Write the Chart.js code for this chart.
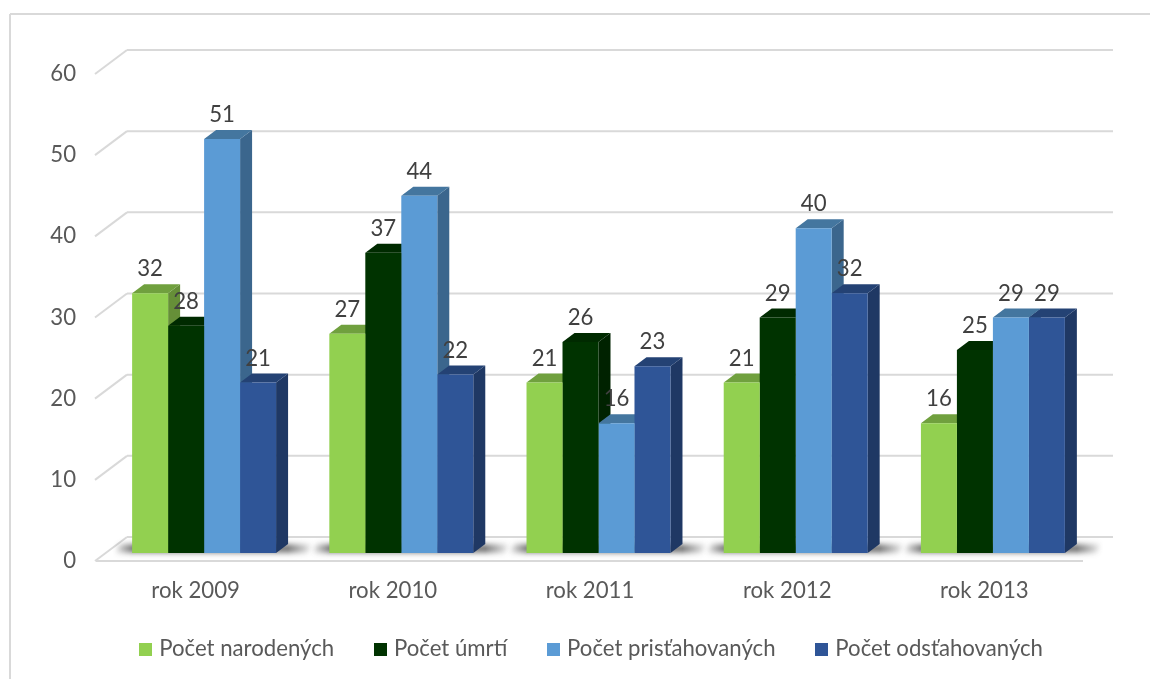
<!DOCTYPE html>
<html>
<head>
<meta charset="utf-8">
<title>Demografia</title>
<script src="https://cdn.jsdelivr.net/npm/chart.js@4"></script>
<style>
    html, body { margin: 0; padding: 0; background: #fff; }
    canvas { display: block; }
</style>
</head>
<body>
<canvas id="chart" width="1150" height="679"></canvas>
<script>
var categories = ["rok 2009", "rok 2010", "rok 2011", "rok 2012", "rok 2013"];
var seriesNames = ["Počet narodených", "Počet úmrtí", "Počet prisťahovaných", "Počet odsťahovaných"];
var narodeni = [32, 27, 21, 21, 16];
var umrti = [28, 37, 26, 29, 25];
var pristahovani = [51, 44, 16, 40, 29];
var odstahovani = [21, 22, 23, 32, 29];
var seriesValues = [narodeni, umrti, pristahovani, odstahovani];
var yTicks = [0, 10, 20, 30, 40, 50, 60];

var frontColors = ["#92d050", "#003300", "#5b9bd5", "#2f5597"];
var sideColors = ["#668f38", "#002200", "#3b668d", "#1f3864"];
var topColors = ["#70a03e", "#002a00", "#44769f", "#244274"];

var FONT = "Lato, Carlito, sans-serif";
var FONT_SIZE = 22.2;
var GRID = "#d9d9d9";
// depth of the fake 3d box and of the back wall
var BAR_X = 12, BAR_Y = -9, SHIFT_X = 8.5, SHIFT_Y = -8, WALL_X = 32, WALL_Y = -24;

function line(ctx, x1, y1, x2, y2) {
    ctx.beginPath();
    ctx.moveTo(x1, y1);
    ctx.lineTo(x2, y2);
    ctx.stroke();
}

function poly(ctx, pts, color) {
    ctx.fillStyle = color;
    ctx.beginPath();
    ctx.moveTo(pts[0][0], pts[0][1]);
    for (var i = 1; i < pts.length; i++) ctx.lineTo(pts[i][0], pts[i][1]);
    ctx.closePath();
    ctx.fill();
}

// legend marker as a small canvas, so the gap to the text can be tighter than the default
function swatch(color) {
    var c = document.createElement("canvas");
    c.width = 13;
    c.height = 13;
    var g = c.getContext("2d");
    g.fillStyle = color;
    g.fillRect(0, 0, 13, 13);
    return c;
}
var swatches = frontColors.map(swatch);

var box3d = {
    id: "box3d",
    afterLayout: function (chart) {
        // tick labels sit lower than the box the legend leaves them, keep them unclipped
        chart.scales.x.bottom += 24;
        chart.legend.right += 4;
    },
    beforeDatasetsDraw: function (chart) {
        var ctx = chart.ctx, area = chart.chartArea, y = chart.scales.y;
        ctx.save();
        // frame of the pasted picture
        ctx.strokeStyle = GRID;
        ctx.lineWidth = 2;
        line(ctx, 10, 679, 10, 14);
        line(ctx, 10, 14, 1150, 14);
        // walls
        yTicks.forEach(function (t) {
            var py = y.getPixelForValue(t);
            line(ctx, area.left - 2, py, area.left + WALL_X - 2, py + WALL_Y);
            line(ctx, area.left + WALL_X - 2, py + WALL_Y, area.right + WALL_X - 2, py + WALL_Y);
        });
        line(ctx, area.left - 1, area.bottom, area.right, area.bottom);
        // shadows on the floor, the shape itself stays off canvas
        var first = chart.getDatasetMeta(0).data, last = chart.getDatasetMeta(3).data;
        var by = area.bottom + SHIFT_Y;
        ctx.save();
        ctx.shadowColor = "#222";
        ctx.shadowBlur = 6;
        ctx.shadowOffsetX = 3000;
        first.forEach(function (bar, i) {
            var x0 = bar.x - bar.width / 2 + SHIFT_X, x3 = last[i].x + last[i].width / 2 + SHIFT_X + BAR_X;
            var x1 = x0 - 20 - 3000, x2 = x3 + 27 - 3000;
            var fade = ctx.createLinearGradient(x1, 0, x2, 0);
            var span = x2 - x1;
            fade.addColorStop(0, "rgba(0,0,0,0)");
            fade.addColorStop(20 / span, "rgba(0,0,0,0.75)");
            fade.addColorStop(1 - 27 / span, "rgba(0,0,0,0.75)");
            fade.addColorStop(1, "rgba(0,0,0,0)");
            poly(ctx, [[x1, by - 1], [x1 + 7, by - 8], [x2, by - 8], [x2 - 7, by - 1]], fade);
        });
        ctx.restore();
        // sides and tops go under all the fronts
        ctx.translate(SHIFT_X, SHIFT_Y);
        seriesValues.forEach(function (vals, i) {
            chart.getDatasetMeta(i).data.forEach(function (bar) {
                var l = bar.x - bar.width / 2, r = bar.x + bar.width / 2;
                poly(ctx, [[r, bar.y], [r + BAR_X, bar.y + BAR_Y], [r + BAR_X, bar.base + BAR_Y], [r, bar.base]], sideColors[i]);
                poly(ctx, [[l, bar.y], [l + BAR_X, bar.y + BAR_Y], [r + BAR_X, bar.y + BAR_Y], [r, bar.y]], topColors[i]);
            });
        });
        ctx.restore();
    },
    beforeDatasetDraw: function (chart) {
        chart.ctx.save();
        chart.ctx.translate(SHIFT_X, SHIFT_Y);
    },
    afterDatasetDraw: function (chart) {
        chart.ctx.restore();
    },
    afterDatasetsDraw: function (chart) {
        var ctx = chart.ctx;
        ctx.save();
        ctx.font = FONT_SIZE + "px " + FONT;
        ctx.fillStyle = "#404040";
        ctx.textAlign = "center";
        ctx.textBaseline = "middle";
        seriesValues.forEach(function (vals, i) {
            chart.getDatasetMeta(i).data.forEach(function (bar, j) {
                ctx.fillText(String(vals[j]), bar.x + SHIFT_X, bar.y + SHIFT_Y - 24);
            });
        });
        ctx.restore();
    },
};

var datasets = seriesNames.map(function (name, i) {
    return {
        label: name,
        data: seriesValues[i],
        backgroundColor: frontColors[i],
        barPercentage: 1,
        categoryPercentage: 0.73,
    };
});

var myChart = new Chart(document.getElementById("chart"), {
    type: "bar",
    data: { labels: categories, datasets: datasets },
    plugins: [box3d],
    options: {
        responsive: false,
        animation: false,
        layout: { padding: { left: 0, right: 67, top: 74, bottom: 8.9 } },
        plugins: {
            tooltip: { enabled: false },
            legend: {
                position: "bottom",
                align: "end",
                labels: {
                    usePointStyle: true,
                    boxWidth: 4.7,
                    boxHeight: 13,
                    padding: 44,
                    color: "#595959",
                    font: { family: FONT, size: FONT_SIZE },
                    generateLabels: function (chart) {
                        var items = Chart.defaults.plugins.legend.labels.generateLabels(chart);
                        items.forEach(function (item, i) {
                            item.pointStyle = swatches[i];
                        });
                        return items;
                    },
                },
            },
        },
        scales: {
            x: {
                grid: { display: false },
                border: { display: false },
                ticks: { color: "#595959", padding: 9, font: { family: FONT, size: FONT_SIZE } },
                afterFit: function (scale) { scale.height = 32.9; },
            },
            y: {
                min: 0,
                max: 60,
                grid: { display: false, drawTicks: false },
                border: { display: false },
                afterBuildTicks: function (scale) {
                    scale.ticks = yTicks.map(function (v) { return { value: v }; });
                },
                ticks: { color: "#595959", padding: 21, font: { family: FONT, size: FONT_SIZE } },
                afterFit: function (scale) { scale.width = 97; },
            },
        },
    },
});
</script>
</body>
</html>
